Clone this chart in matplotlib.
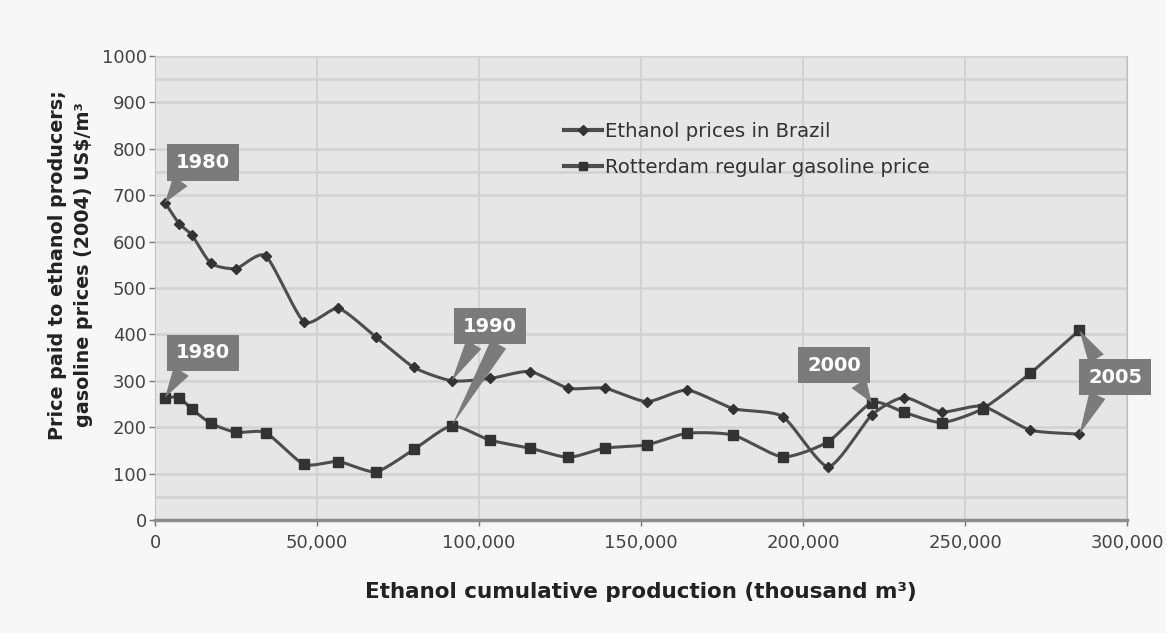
import numpy as np
import matplotlib
matplotlib.use("Agg")
import matplotlib.pyplot as plt
from matplotlib.ticker import FixedLocator

plt.rcParams['font.family'] = ['DejaVu Sans']

# cumulative production (thousand m3) for each year 1980..2005
production = [3100, 7400, 11400, 17300, 25000, 34200, 46000, 56600, 68200, 79900,
              91600, 103400, 115700, 127600, 138900, 151800, 164300, 178500, 193700,
              207800, 221200, 231200, 242800, 255500, 270100, 285300]
ethanol = [684, 639, 614, 553, 542, 569, 427, 456, 394, 329,
           300, 305, 320, 284, 284, 255, 280, 240, 223, 115,
           226, 264, 233, 245, 194, 185]
gasoline = [264, 264, 239, 208, 189, 188, 120, 126, 104, 152,
            203, 172, 155, 135, 155, 162, 187, 183, 136, 169,
            253, 232, 210, 240, 316, 409]
years = list(range(1980, 2006))

x_ticks = [0, 50000, 100000, 150000, 200000, 250000, 300000]
y_ticks = [0, 100, 200, 300, 400, 500, 600, 700, 800, 900, 1000]
extra_grid = [50, 750, 950]


def smooth(x, y, n=24, k=0.65):
    # cardinal spline through the points, a bit like excel's smoothed line
    x = np.asarray(x, float)
    y = np.asarray(y, float)
    px = np.concatenate([[2 * x[0] - x[1]], x, [2 * x[-1] - x[-2]]])
    py = np.concatenate([[2 * y[0] - y[1]], y, [2 * y[-1] - y[-2]]])
    t = np.linspace(0, 1, n, endpoint=False)
    h00 = 2 * t ** 3 - 3 * t ** 2 + 1
    h10 = t ** 3 - 2 * t ** 2 + t
    h01 = -2 * t ** 3 + 3 * t ** 2
    h11 = t ** 3 - t ** 2
    xs, ys = [], []
    for i in range(1, len(px) - 2):
        for p, out in ((px, xs), (py, ys)):
            m1 = k * (p[i + 1] - p[i - 1]) / 2
            m2 = k * (p[i + 2] - p[i]) / 2
            out.append(h00 * p[i] + h10 * m1 + h01 * p[i + 1] + h11 * m2)
    return np.concatenate(xs + [[x[-1]]]), np.concatenate(ys + [[y[-1]]])


fig = plt.figure(figsize=(11.66, 6.33), dpi=100, facecolor='#f7f7f7')
ax = fig.add_axes([155 / 1166, 1 - 520 / 633, 972 / 1166, 464 / 633])
ax.set_facecolor('#e6e6e6')

line_col = '#4d4d4d'
mark_col = '#333333'

# lines
sx, sy = smooth(production, ethanol)
ax.plot(sx, sy, color=line_col, lw=2.2, zorder=3)
ax.plot(production, ethanol, ls='none', marker='D', ms=5.5, color=mark_col, zorder=4)
sx, sy = smooth(production, gasoline)
ax.plot(sx, sy, color=line_col, lw=2.2, zorder=3)
ax.plot(production, gasoline, ls='none', marker='s', ms=6.5, color=mark_col, zorder=4)

# legend proxies
ax.plot([], [], color=line_col, lw=3, marker='D', ms=5, mfc=mark_col, mec=mark_col,
        label='Ethanol prices in Brazil')
ax.plot([], [], color=line_col, lw=3, marker='s', ms=6, mfc=mark_col, mec=mark_col,
        label='Rotterdam regular gasoline price')
ax.legend(loc='upper left', bbox_to_anchor=(0.421, 0.857), frameon=False,
          fontsize=14.2, handlelength=1.9, handletextpad=0.15, labelspacing=0.85,
          borderpad=0, borderaxespad=0, labelcolor='#333333')

ax.set_xlim(0, 300000)
ax.set_ylim(0, 1000)
ax.set_xticks(x_ticks)
ax.set_xticklabels([f'{v:,}' for v in x_ticks])
ax.set_yticks(y_ticks)
ax.yaxis.set_minor_locator(FixedLocator(extra_grid))
ax.tick_params(axis='both', which='major', labelsize=13, labelcolor='#444444',
               color='#777777', length=4, width=1)
ax.tick_params(axis='x', pad=6)
ax.tick_params(axis='y', pad=2)
ax.tick_params(axis='y', which='minor', length=0)
ax.grid(axis='y', which='both', color='#d2d2d2', lw=1.8)
ax.grid(axis='x', color='#cfcfcf', lw=1.2)
ax.set_axisbelow(True)

ax.spines['top'].set_visible(False)
ax.spines['right'].set_color('#bdbdbd')
ax.spines['left'].set_color('#c4c4c4')
ax.spines['bottom'].set_color('#8c8c8c')
ax.spines['bottom'].set_linewidth(2.5)

ax.set_xlabel('Ethanol cumulative production (thousand m³)', fontsize=15.5,
              fontweight='bold', color='#222222', labelpad=22)
ax.set_ylabel('Price paid to ethanol producers;\ngasoline prices (2004) US$/m³',
              fontsize=13.8, fontweight='bold', color='#222222',
              linespacing=1.45)
ax.yaxis.set_label_coords(-0.064, 0.55)

# year callouts
box_col = '#7b7b7b'
callouts = [
    (1980, ethanol, (14800, 770), (0.2, 0.0)),
    (1980, gasoline, (14800, 360), (0.2, 0.0)),
    (1990, ethanol, (103400, 418), (0.3, 0.0)),
    (1990, gasoline, (103400, 418), (0.75, 0.0)),
    (2000, gasoline, (209600, 334), (0.85, 0.0)),
    (2005, gasoline, (296300, 308), (0.25, 1.0)),
    (2005, ethanol, (296300, 308), (0.25, 0.0)),
]
for yr, series, pos, rel in callouts:
    i = years.index(yr)
    ax.annotate(str(yr), xy=(production[i], series[i]), xytext=pos,
                ha='center', va='center', fontsize=14, fontweight='bold',
                color='white', zorder=6, annotation_clip=False,
                bbox=dict(boxstyle='square,pad=0.45', fc=box_col, ec='none'),
                arrowprops=dict(arrowstyle='wedge,tail_width=0.9,shrink_factor=0.5',
                                fc=box_col, ec='none', relpos=rel,
                                shrinkA=0, shrinkB=0))

fig.savefig('out.png', dpi=100, facecolor=fig.get_facecolor())
